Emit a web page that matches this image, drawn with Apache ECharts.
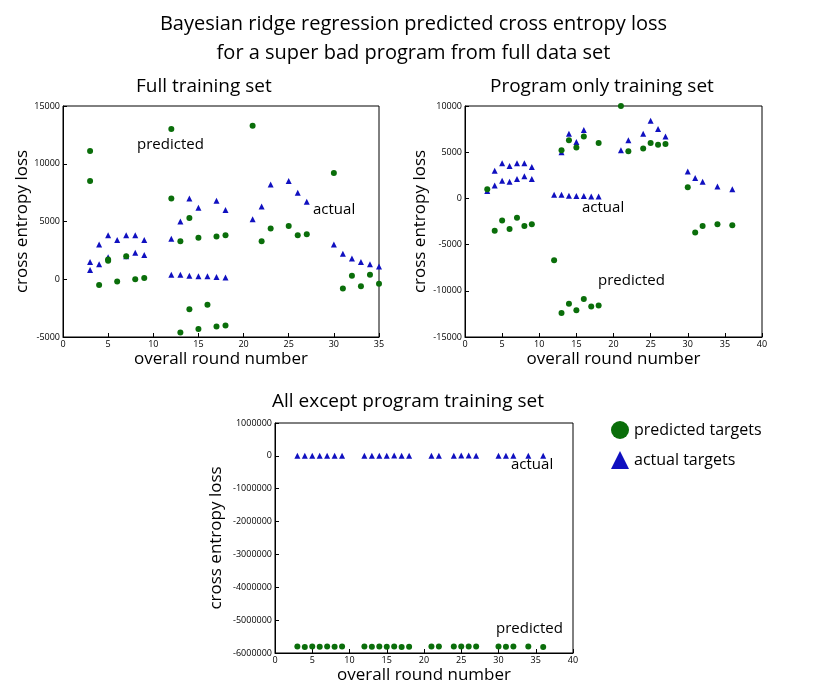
<!DOCTYPE html>
<html>
<head>
<meta charset="UTF-8">
<script src="https://cdn.jsdelivr.net/npm/echarts@6/dist/echarts.min.js"></script>
<style>
  html, body { margin: 0; padding: 0; background: #fff; }
  #chart { width: 827px; height: 699px; }
</style>
</head>
<body>
<div id="chart"></div>
<script>
// Full training set
const fullActual = [
  [3,1500],[3,800],[4,3000],[4,1300],[5,3800],[5,1900],[6,3400],[7,3800],[7,2000],
  [8,3800],[8,2300],[9,3400],[9,2100],[12,3500],[12,400],[13,5000],[13,400],
  [14,7000],[14,300],[15,6200],[15,250],[16,250],[17,6800],[17,200],[18,6000],[18,150],
  [21,5200],[22,6300],[23,8200],[25,8500],[26,7500],[27,6700],
  [30,3000],[31,2200],[32,1800],[33,1500],[34,1300],[35,1100]
];
const fullPredicted = [
  [3,11100],[3,8500],[4,-500],[5,1700],[5,1600],[6,-200],[7,2000],[8,0],[9,100],
  [12,13000],[12,7000],[13,3300],[13,-4600],[14,5300],[14,-2600],[15,3600],[15,-4300],
  [16,-2200],[17,3700],[17,-4100],[18,3800],[18,-4000],
  [21,13300],[22,3300],[23,4400],[25,4600],[26,3800],[27,3900],
  [30,9200],[31,-800],[32,300],[33,-600],[34,400],[35,-400]
];
// Program only training set
const progActual = [
  [3,800],[4,3000],[4,1400],[5,3800],[5,1900],[6,3500],[6,1800],[7,3800],[7,2100],
  [8,3800],[8,2400],[9,3400],[9,2100],[12,400],[13,5000],[13,400],[14,7000],[14,300],
  [15,6100],[15,250],[16,7400],[16,250],[17,200],[18,200],
  [21,5200],[22,6300],[24,7000],[25,8400],[26,7500],[27,6700],
  [30,2900],[31,2200],[32,1800],[34,1300],[36,1000]
];
const progPredicted = [
  [3,1000],[4,-3500],[5,-2400],[6,-3300],[7,-2100],[8,-3000],[9,-2800],
  [12,-6700],[13,5200],[13,-12400],[14,6300],[14,-11400],[15,5500],[15,-12100],
  [16,6700],[16,-10900],[17,-11700],[18,6000],[18,-11600],
  [21,10000],[22,5100],[24,5400],[25,6000],[26,5800],[27,5900],
  [30,1200],[31,-3700],[32,-3000],[34,-2800],[36,-2900]
];
// All except program training set
const rounds = [3,4,5,6,7,8,9,12,13,14,15,16,17,18,21,22,24,25,26,27,30,31,32,34,36];
const exceptActual = [800,3000,3800,3500,3800,3800,3400,400,5000,7000,6100,7400,200,200,
  5200,6300,7000,8400,7500,6700,2900,2200,1800,1300,1000];
const exceptPredicted = [-5800000,-5820000,-5800000,-5810000,-5800000,-5810000,-5800000,
  -5800000,-5810000,-5800000,-5810000,-5800000,-5820000,-5810000,-5800000,-5800000,
  -5800000,-5800000,-5800000,-5800000,-5800000,-5810000,-5800000,-5800000,-5820000];

const GREEN = '#0a6e0a', BLUE = '#1010c0';
const chart = echarts.init(document.getElementById('chart'));

function xAxis(idx, max) {
  return {
    gridIndex: idx, type: 'value', min: 0, max: max, interval: 5,
    name: 'overall round number', nameLocation: 'middle', nameGap: 14,
    nameTextStyle: { fontSize: 17, color: '#000' },
    axisLine: { onZero: false, lineStyle: { color: '#000' } },
    axisTick: { inside: true, length: 4, lineStyle: { color: '#000' } },
    axisLabel: { fontSize: 9, color: '#000', margin: 3, formatter: v => String(v) },
    splitLine: { show: false }
  };
}
function yAxis(idx, min, max, interval, gap) {
  return {
    gridIndex: idx, type: 'value', min: min, max: max, interval: interval,
    name: 'cross entropy loss', nameLocation: 'middle', nameGap: gap,
    nameTextStyle: { fontSize: 17, color: '#000' },
    axisLine: { onZero: false, lineStyle: { color: '#000' } },
    axisTick: { inside: true, length: 4, lineStyle: { color: '#000' } },
    axisLabel: { fontSize: 9, color: '#000', margin: 3, formatter: v => String(v) },
    splitLine: { show: false }
  };
}
function dots(idx, data) {
  return { name: 'predicted targets', type: 'scatter', xAxisIndex: idx, yAxisIndex: idx,
    data: data, symbol: 'circle', symbolSize: 6, itemStyle: { color: GREEN, opacity: 1 } };
}
function tris(idx, data) {
  return { name: 'actual targets', type: 'scatter', xAxisIndex: idx, yAxisIndex: idx,
    data: data, symbol: 'triangle', symbolSize: 6, itemStyle: { color: BLUE, opacity: 1 } };
}
function txt(x, y, s, size) {
  return { type: 'text', left: x, top: y,
    style: { text: s, fontSize: size, fill: '#000', fontFamily: 'Open Sans' } };
}

const option = {
  textStyle: { fontFamily: 'Open Sans' },
  animation: false,
  grid: [
    { left: 63, top: 106, width: 316, height: 231, show: true, borderColor: '#000', borderWidth: 1 },
    { left: 465, top: 106, width: 297, height: 231, show: true, borderColor: '#000', borderWidth: 1 },
    { left: 275, top: 423, width: 298, height: 230, show: true, borderColor: '#000', borderWidth: 1 }
  ],
  xAxis: [xAxis(0, 35), xAxis(1, 40), xAxis(2, 40)],
  yAxis: [yAxis(0, -5000, 15000, 5000, 28), yAxis(1, -15000, 10000, 5000, 36),
          yAxis(2, -6000000, 1000000, 1000000, 50)],
  legend: {
    left: 606, top: 416, orient: 'vertical', itemGap: 12, itemWidth: 18, itemHeight: 18,
    textStyle: { fontSize: 16, color: '#000' },
    data: [
      { name: 'predicted targets', icon: 'circle', itemStyle: { color: GREEN } },
      { name: 'actual targets', icon: 'triangle', itemStyle: { color: BLUE } }
    ]
  },
  graphic: [
    { type: 'text', left: 'center', top: 10, style: {
      text: 'Bayesian ridge regression predicted cross entropy loss\nfor a super bad program from full data set',
      fontSize: 20, lineHeight: 29, fill: '#000', textAlign: 'center', fontFamily: 'Open Sans' } },
    txt(136, 77, 'Full training set', 19),
    txt(490, 77, 'Program only training set', 19),
    txt(272, 392, 'All except program training set', 19),
    txt(137, 137, 'predicted', 15),
    txt(313, 202, 'actual', 15),
    txt(582, 200, 'actual', 15),
    txt(598, 273, 'predicted', 15),
    txt(511, 457, 'actual', 15),
    txt(496, 621, 'predicted', 15)
  ],
  series: [
    tris(0, fullActual), dots(0, fullPredicted),
    tris(1, progActual), dots(1, progPredicted),
    tris(2, rounds.map((r, i) => [r, exceptActual[i]])),
    dots(2, rounds.map((r, i) => [r, exceptPredicted[i]]))
  ]
};
chart.setOption(option);
</script>
</body>
</html>
